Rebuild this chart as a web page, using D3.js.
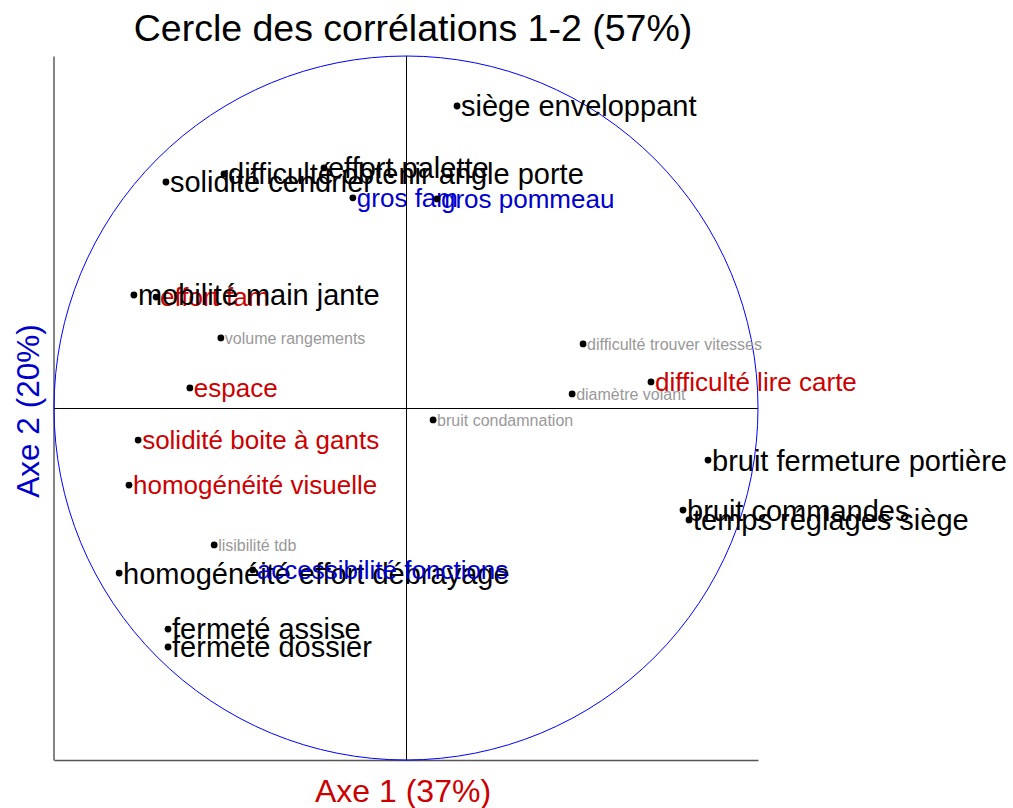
<!DOCTYPE html>
<html>
<head>
<meta charset="utf-8">
<script src="https://cdn.jsdelivr.net/npm/d3@7"></script>
<style>
  html, body { margin: 0; padding: 0; background: #fff; }
  svg { display: block; font-family: "Liberation Sans", Arial, sans-serif; }
</style>
</head>
<body>
<svg id="chart" width="1013" height="808"></svg>
<script>
// Variables projected on the first factorial plane
const variables = [
  "siège enveloppant",
  "solidité cendrier",
  "difficulté obtenir angle porte",
  "effort palette",
  "gros fam",
  "gros pommeau",
  "effort fam",
  "mobilité main jante",
  "volume rangements",
  "espace",
  "difficulté trouver vitesses",
  "diamètre volant",
  "difficulté lire carte",
  "bruit condamnation",
  "solidité boite à gants",
  "homogénéité visuelle",
  "lisibilité tdb",
  "homogénéité effort débrayage",
  "accessibilité fonctions",
  "fermeté assise",
  "fermeté dossier",
  "bruit fermeture portière",
  "bruit commandes",
  "temps réglages siège"
];
// Correlation with axis 1
const axe1 = [
  0.145, -0.682, -0.517, -0.233, -0.151, 0.088, -0.710, -0.773, -0.526, -0.614,
  0.503, 0.472, 0.696, 0.077, -0.761, -0.787, -0.545, -0.815, -0.435, -0.676,
  -0.676, 0.858, 0.787, 0.804
];
// Correlation with axis 2
const axe2 = [
  0.858, 0.642, 0.665, 0.682, 0.597, 0.594, 0.315, 0.321, 0.199, 0.057,
  0.182, 0.040, 0.074, -0.034, -0.091, -0.219, -0.389, -0.469, -0.460, -0.628,
  -0.679, -0.148, -0.290, -0.318
];
// Variable class (1: axis 1/2 well represented, 2 and 3: intermediate, 4: poorly represented)
const classe = [
  1, 1, 1, 1, 3, 3, 2, 1, 4, 2,
  4, 4, 2, 4, 2, 2, 4, 1, 3, 1,
  1, 1, 1, 1
];

const title = "Cercle des corrélations 1-2 (57%)";
const xTitle = "Axe 1 (37%)";
const yTitle = "Axe 2 (20%)";

const classStyle = {
  1: { color: "#000000", size: 29 },
  2: { color: "#cd0000", size: 26 },
  3: { color: "#0000cd", size: 26 },
  4: { color: "#999999", size: 16 }
};

const svg = d3.select("#chart");

const x = d3.scaleLinear().domain([-1, 1]).range([54, 758]);
const y = d3.scaleLinear().domain([-1, 1]).range([760, 56]);
const crisp = v => Math.round(v) + 0.5;

// Frame: left and bottom axes without ticks
svg.append("g")
  .attr("transform", `translate(${x(-1) - 0.5},0)`)
  .call(d3.axisLeft(y).ticks(0).tickSizeOuter(0))
  .select(".domain").attr("stroke", "#666").attr("stroke-width", 1.6);
svg.append("g")
  .attr("transform", `translate(0,${y(-1)})`)
  .call(d3.axisBottom(x).ticks(0).tickSizeOuter(0))
  .select(".domain").attr("stroke", "#555").attr("stroke-width", 1.4);

// Axes through the origin
svg.append("line")
  .attr("x1", x(-1)).attr("x2", x(1))
  .attr("y1", crisp(y(0))).attr("y2", crisp(y(0)))
  .attr("stroke", "#000").attr("stroke-width", 1);
svg.append("line")
  .attr("x1", crisp(x(0))).attr("x2", crisp(x(0)))
  .attr("y1", y(1)).attr("y2", y(-1))
  .attr("stroke", "#000").attr("stroke-width", 1);

// Unit circle
svg.append("circle")
  .attr("cx", x(0)).attr("cy", y(0))
  .attr("r", x(1) - x(0))
  .attr("fill", "none")
  .attr("stroke", "#0000ff")
  .attr("stroke-width", 1);

// Points and labels
const data = variables.map((v, i) => ({ nom: v, a1: axe1[i], a2: axe2[i], c: classe[i] }));

const g = svg.append("g");
data.forEach(d => {
  const st = classStyle[d.c];
  g.append("circle")
    .attr("cx", x(d.a1)).attr("cy", y(d.a2))
    .attr("r", 3.4)
    .attr("fill", "#000");
  g.append("text")
    .attr("x", x(d.a1) + 4)
    .attr("y", y(d.a2))
    .attr("dy", "0.36em")
    .attr("font-size", st.size)
    .attr("fill", st.color)
    .text(d.nom);
});

// Titles
svg.append("text")
  .attr("x", 413).attr("y", 41)
  .attr("text-anchor", "middle")
  .attr("font-size", 37.5)
  .attr("fill", "#000")
  .text(title);

svg.append("text")
  .attr("x", 403).attr("y", 802)
  .attr("text-anchor", "middle")
  .attr("font-size", 32)
  .attr("fill", "#cd0000")
  .text(xTitle);

svg.append("text")
  .attr("transform", "translate(39,411) rotate(-90)")
  .attr("text-anchor", "middle")
  .attr("font-size", 31.5)
  .attr("fill", "#0000cd")
  .text(yTitle);
</script>
</body>
</html>
